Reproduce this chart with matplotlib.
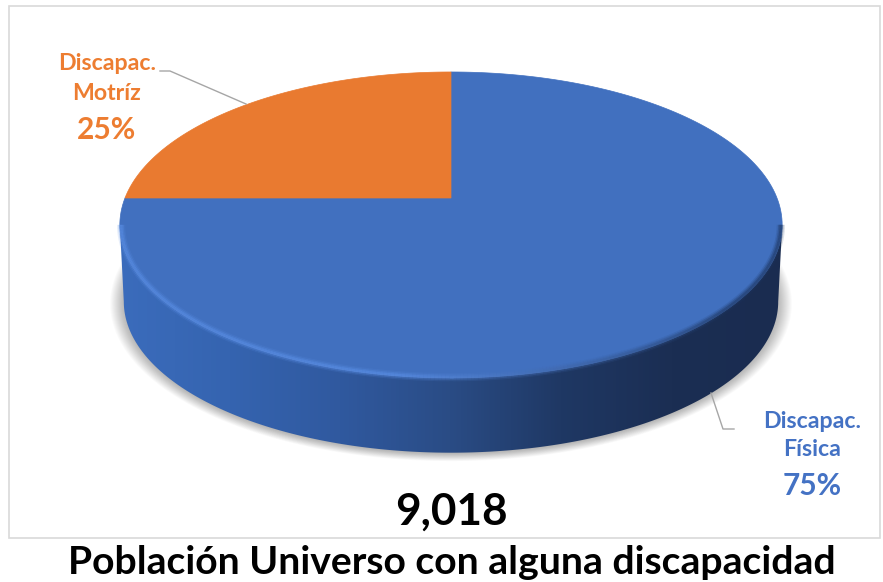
import numpy as np
import matplotlib
matplotlib.use("Agg")
import matplotlib.pyplot as plt
from matplotlib.collections import LineCollection
from matplotlib.colors import LinearSegmentedColormap, to_rgb
from matplotlib.patches import Polygon, Rectangle

OUTPUT_IMAGE = "out.png"

categories = ["Discapac.\nFísica", "Discapac.\nMotríz"]
shares = [75, 25]
total = "9,018"
title = "Población Universo con alguna discapacidad"

BLUE = "#4472c4"
ORANGE = "#ed7d31"
TOP_BLUE = "#4170bf"
TOP_ORANGE = "#e97a30"
SIDE_STOPS = ["#3b6cbc", "#3564b0", "#30599f", "#2a4c85", "#1f3864", "#1b2e53", "#1a2c50"]

# pie geometry in picture pixels: the disk is drawn in perspective
CX, CY = 451, 198
RX, A, K = 326, 148.2, 0.176
DEPTH = 77


def disk(t, scale=1.0, dy=0.0):
    s, c = np.sin(t), np.cos(t)
    w = 1 + K * s
    return np.column_stack([CX + scale * RX * c / w, CY + dy - scale * A * s / w])


def wedge(start, end):
    t = np.radians(np.linspace(start, end, 200))
    return np.vstack([[CX, CY], disk(t)])


def plot_pie():
    fig = plt.figure(figsize=(8.83, 5.82), dpi=100)
    ax = fig.add_axes([0, 0, 1, 1])
    ax.set_xlim(0, 883)
    ax.set_ylim(582, 0)
    ax.axis("off")
    plt.rcParams["font.family"] = ["Lato", "DejaVu Sans"]

    ax.add_patch(Rectangle((9, 6), 871, 532, fc="white", ec="#d9d9d9", lw=1.2, zorder=0))

    full = np.radians(np.linspace(0, 360, 400))

    # soft shadow under the disk
    for i in range(16):
        grow = 1.045 - i * 0.003
        ax.add_patch(Polygon(disk(full, 0.985 * grow, DEPTH + 1), fc="black", ec="none",
                             alpha=0.018, zorder=1))

    # side wall starts where the top face is widest
    tilt = np.degrees(np.arcsin(K))
    front = np.radians(np.linspace(180 + tilt, 360 - tilt, 300))
    wall = np.vstack([disk(front), disk(front, 0.988, DEPTH)[::-1]])
    outline = Polygon(wall, fc="none", ec="none", zorder=2)
    ax.add_patch(outline)
    cmap = LinearSegmentedColormap.from_list("side", SIDE_STOPS)
    img = ax.imshow(np.linspace(0, 1, 256)[None, :], cmap=cmap, aspect="auto",
                    extent=(118, 783, 470, 190), zorder=2)
    img.set_clip_path(outline)
    ax.set_xlim(0, 883)
    ax.set_ylim(582, 0)

    # top face, slices from the shares
    angle = 90
    colors = [TOP_BLUE, TOP_ORANGE]
    for share, color in zip(shares, colors):
        end = angle - share * 3.6
        ax.add_patch(Polygon(wedge(angle, end), fc=color, ec=color, lw=0.5, zorder=3))
        angle = end

    # bevel along the front edge of the top face
    pts = disk(front, 0.996)
    segs = np.stack([pts[:-1], pts[1:]], axis=1)
    light = np.array(to_rgb("#5b8fe6"))
    dark = np.array(to_rgb("#1f3864"))
    mix = np.clip((np.linspace(0, 1, len(segs)) - 0.45) / 0.35, 0, 1)[:, None]
    rim = light * (1 - mix) + dark * mix
    for lw, alpha in [(6, 0.15), (4, 0.3), (2, 0.45)]:
        ax.add_collection(LineCollection(segs, colors=rim, linewidths=lw, alpha=alpha, zorder=4))

    # leader lines
    ax.plot([160, 170, 246], [71, 71, 104], color="#a6a6a6", lw=1, zorder=5)
    ax.plot([711, 723, 734], [393, 429, 429], color="#a6a6a6", lw=1, zorder=5)

    # labels
    label_pos = [(812, 421, 450, 486), (107, 63, 93, 130)]
    for cat, share, color, (x, y1, y2, y3) in zip(categories, shares, [BLUE, ORANGE], label_pos):
        first, second = cat.split("\n")
        ax.text(x, y1, first, color=color, fontsize=16.7, fontweight="bold", ha="center", va="center")
        ax.text(x, y2, second, color=color, fontsize=16.7, fontweight="bold", ha="center", va="center")
        ax.text(x, y3, f"{share}%", color=color, fontsize=21.5, fontweight="bold", ha="center", va="center")

    ax.text(451, 512, total, color="black", fontsize=31.7, fontweight="bold", ha="center", va="center")
    ax.text(452, 562, title, color="black", fontsize=28.2, fontweight="bold", ha="center", va="center")

    fig.savefig(OUTPUT_IMAGE, dpi=100)


if __name__ == "__main__":
    plot_pie()
